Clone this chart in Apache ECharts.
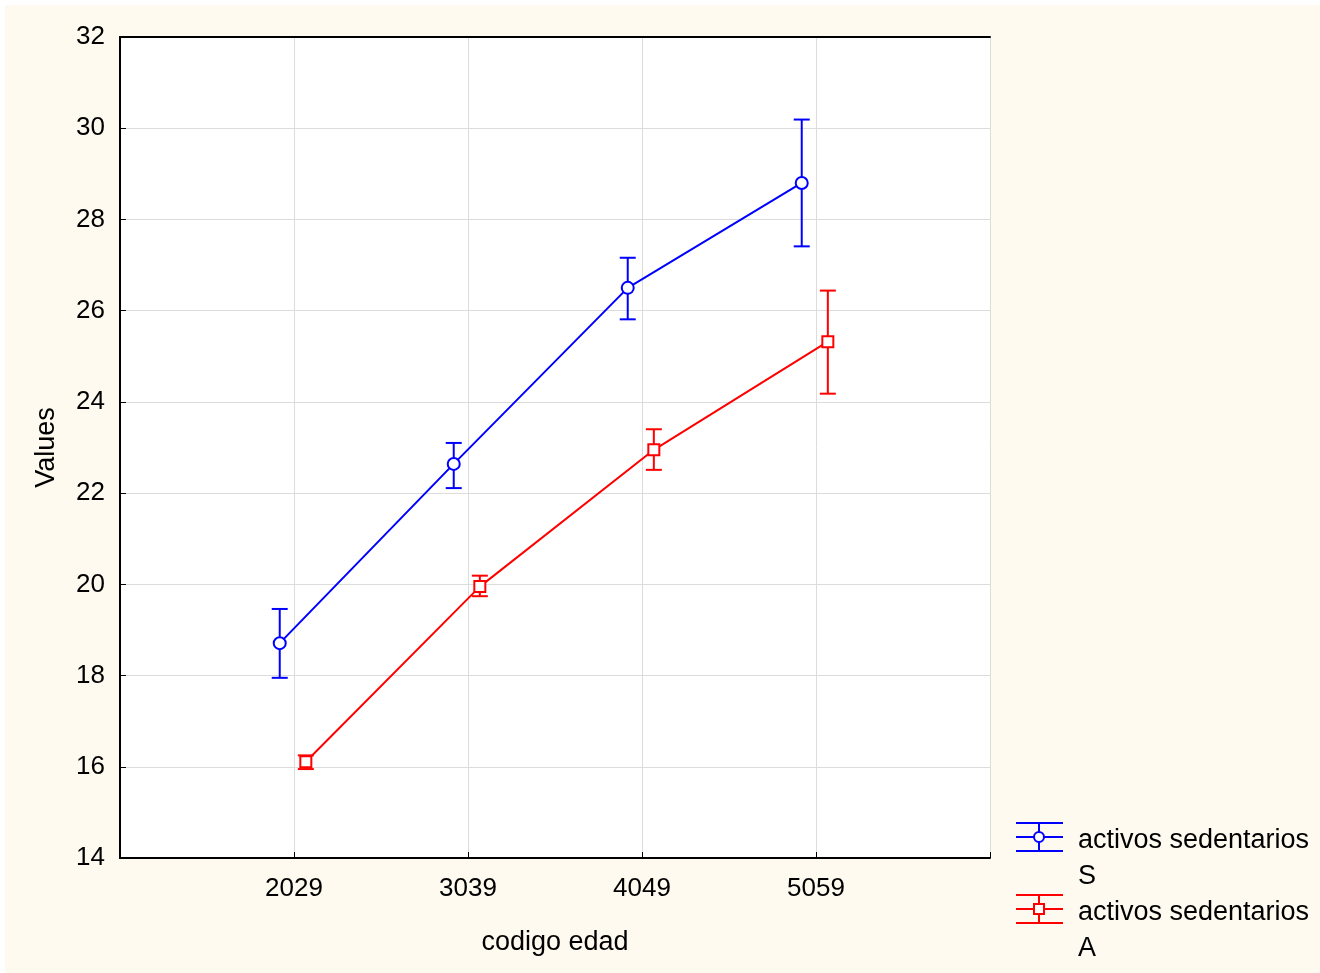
<!DOCTYPE html>
<html>
<head>
<meta charset="utf-8">
<script src="https://cdn.jsdelivr.net/npm/echarts@6/dist/echarts.min.js"></script>
<style>
html,body{margin:0;padding:0;background:#ffffff;}
#chart{position:absolute;left:5px;top:5px;width:1315px;height:968px;}
</style>
</head>
<body>
<div id="chart"></div>
<script>
// ---- data ----
const categories = ['2029', '3039', '4049', '5059'];
const seriesNames = ['activos sedentarios S', 'activos sedentarios A'];
const legendLines = [['activos sedentarios', 'S'], ['activos sedentarios', 'A']];
const meanS = [18.71, 22.64, 26.50, 28.80];
const lowS  = [17.95, 22.11, 25.81, 27.41];
const highS = [19.46, 23.10, 27.16, 30.19];
const meanA = [16.11, 19.95, 22.95, 25.32];
const lowA  = [15.95, 19.74, 22.51, 24.18];
const highA = [16.25, 20.19, 23.40, 26.44];
const yMin = 14, yMax = 32, yStep = 2;

// ---- style ----
const FONT = 'Liberation Sans';
const FS = 26;
const FS_BIG = 27;
const colors = ['#0000ff', '#ff0000'];
const offsets = [-0.082, 0.068]; // horizontal dodge of each series (in category units)

function pts(mean, off) { return mean.map((v, i) => [i + 1 + off, v]); }
function bars(lo, hi, off) { return lo.map((v, i) => [i + 1 + off, v, hi[i]]); }

function errRender(color) {
  return function (params, api) {
    const x = api.value(0);
    const a = api.coord([x, api.value(1)]);
    const b = api.coord([x, api.value(2)]);
    const hw = 8;
    const st = { stroke: color, lineWidth: 2 };
    return {
      type: 'group',
      children: [
        { type: 'line', shape: { x1: a[0], y1: a[1], x2: b[0], y2: b[1] }, style: st },
        { type: 'line', shape: { x1: a[0] - hw, y1: a[1], x2: a[0] + hw, y2: a[1] }, style: st },
        { type: 'line', shape: { x1: b[0] - hw, y1: b[1], x2: b[0] + hw, y2: b[1] }, style: st }
      ]
    };
  };
}

const chart = echarts.init(document.getElementById('chart'), null, { renderer: 'canvas' });

function legendItem(idx, top) {
  const c = colors[idx];
  const x0 = 1011, x1 = 1058, xc = 1034, yc = top + 14;
  const st = { stroke: c, lineWidth: 2 };
  const marker = idx === 0
    ? { type: 'circle', shape: { cx: xc, cy: yc, r: 5 }, style: { fill: '#fff', stroke: c, lineWidth: 2 } }
    : { type: 'rect', shape: { x: xc - 5, y: yc - 5, width: 10, height: 10 }, style: { fill: '#fff', stroke: c, lineWidth: 2 } };
  return [
    { type: 'line', shape: { x1: x0, y1: top, x2: x1, y2: top }, style: st },
    { type: 'line', shape: { x1: x0, y1: yc, x2: x1, y2: yc }, style: st },
    { type: 'line', shape: { x1: x0, y1: top + 28, x2: x1, y2: top + 28 }, style: st },
    { type: 'line', shape: { x1: xc, y1: top, x2: xc, y2: top + 28 }, style: st },
    marker,
    { type: 'text', x: 1073, y: yc + 4, style: { text: legendLines[idx][0], font: FS_BIG + 'px "' + FONT + '"', fill: '#000', textVerticalAlign: 'middle' } },
    { type: 'text', x: 1073, y: yc + 40, style: { text: legendLines[idx][1], font: FS_BIG + 'px "' + FONT + '"', fill: '#000', textVerticalAlign: 'middle' } }
  ];
}

const frameLine = { show: true, lineStyle: { color: '#000', width: 2 } };

const option = {
  animation: false,
  backgroundColor: '#fefaf0',
  textStyle: { fontFamily: FONT },
  grid: {
    left: 115, top: 32, width: 870, height: 821,
    show: true, backgroundColor: '#ffffff', borderColor: '#000000', borderWidth: 0
  },
  xAxis: [{
    type: 'value', min: 0, max: categories.length + 1, interval: 1,
    name: 'codigo edad', nameLocation: 'middle', nameGap: 71,
    nameTextStyle: { fontSize: FS_BIG, color: '#000', fontFamily: FONT },
    axisLine: frameLine,
    axisTick: { show: true, inside: true, length: 6, lineStyle: { color: '#000', width: 1 } },
    axisLabel: {
      fontSize: FS, color: '#000', fontFamily: FONT, margin: 18,
      formatter: function (v) { return categories[v - 1] || ''; }
    },
    splitLine: { show: true, lineStyle: { color: '#dcdcdc', width: 1 } },
    z: 1
  }, {
    type: 'value', position: 'top', min: 0, max: categories.length + 1, interval: 1,
    axisLine: frameLine, axisTick: { show: false }, axisLabel: { show: false }, splitLine: { show: false }, z: 1
  }],
  yAxis: [{
    type: 'value', min: yMin, max: yMax, interval: yStep,
    name: 'Values', nameLocation: 'middle', nameGap: 60,
    nameTextStyle: { fontSize: FS_BIG, color: '#000', fontFamily: FONT },
    axisLine: frameLine,
    axisTick: { show: true, inside: true, length: 6, lineStyle: { color: '#000', width: 1 } },
    axisLabel: { fontSize: FS, color: '#000', fontFamily: FONT, margin: 15, padding: [4, 0, 0, 0] },
    splitLine: { show: true, lineStyle: { color: '#dcdcdc', width: 1 } },
    z: 1
  }, {
    type: 'value', position: 'right', min: yMin, max: yMax, interval: yStep,
    axisLine: frameLine, axisTick: { show: false }, axisLabel: { show: false }, splitLine: { show: false }, z: 1
  }],
  series: [
    {
      name: seriesNames[0], type: 'custom', renderItem: errRender(colors[0]),
      data: bars(lowS, highS, offsets[0]), encode: { x: 0, y: [1, 2] }, z: 10
    },
    {
      name: seriesNames[1], type: 'custom', renderItem: errRender(colors[1]),
      data: bars(lowA, highA, offsets[1]), encode: { x: 0, y: [1, 2] }, z: 10
    },
    {
      name: seriesNames[0], type: 'line', data: pts(meanS, offsets[0]),
      symbol: 'emptyCircle', symbolSize: 12,
      lineStyle: { color: colors[0], width: 2 },
      itemStyle: { color: colors[0], borderWidth: 2 }, z: 11
    },
    {
      name: seriesNames[1], type: 'line', data: pts(meanA, offsets[1]),
      symbol: 'emptyRect', symbolSize: 11,
      lineStyle: { color: colors[1], width: 2 },
      itemStyle: { color: colors[1], borderWidth: 2 }, z: 11
    }
  ],
  graphic: [].concat(legendItem(0, 818), legendItem(1, 890))
};
chart.setOption(option);
</script>
</body>
</html>
